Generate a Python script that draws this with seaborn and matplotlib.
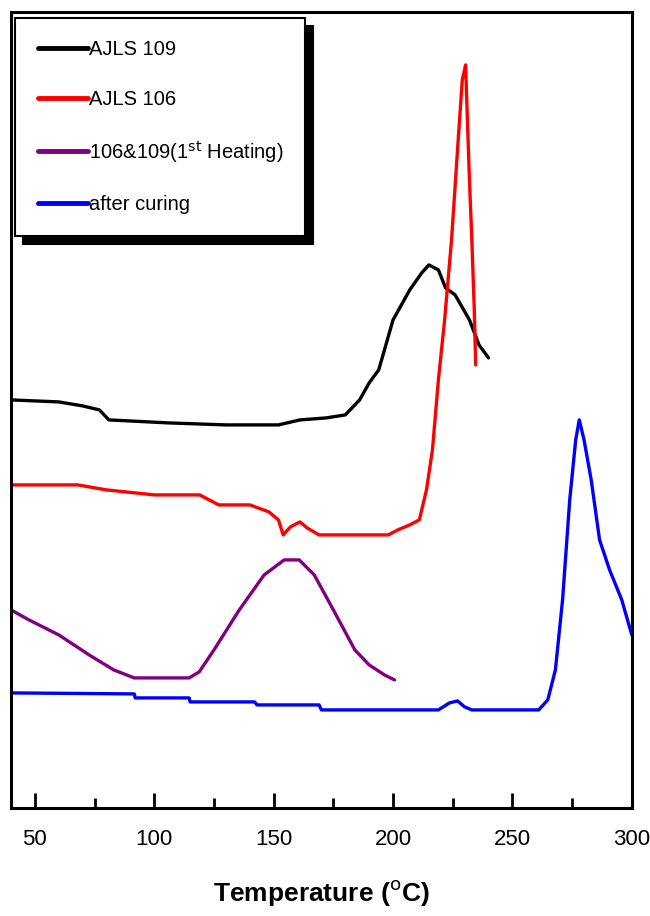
import numpy as np
import pandas as pd
import matplotlib
matplotlib.use("Agg")
import matplotlib.pyplot as plt
import seaborn as sns
from matplotlib.ticker import MultipleLocator

# DSC traces, heat flow in arbitrary units
t_109 = [40, 60, 70, 77, 81, 106, 130, 152, 161, 172, 180, 186, 190, 194, 200, 207, 212, 215, 219, 222, 226, 232, 236, 240]
h_109 = [4.08, 4.06, 4.02, 3.98, 3.88, 3.85, 3.83, 3.83, 3.88, 3.90, 3.93, 4.08, 4.25, 4.38, 4.88, 5.18, 5.35, 5.43, 5.38, 5.2, 5.13, 4.88, 4.63, 4.50]

t_106 = [40, 68, 80, 100, 119, 127, 140, 148, 152, 154, 157, 161, 164, 169, 185, 198, 202, 207, 211, 214, 216.5, 219, 221.6, 224.5, 227, 229, 230.4, 231, 232, 233, 234, 234.6]
h_106 = [3.23, 3.23, 3.18, 3.13, 3.13, 3.03, 3.03, 2.96, 2.88, 2.73, 2.81, 2.86, 2.80, 2.73, 2.73, 2.73, 2.78, 2.83, 2.88, 3.18, 3.58, 4.28, 4.88, 5.68, 6.58, 7.28, 7.43, 6.98, 6.28, 5.68, 5.00, 4.43]

t_mix = [40, 47.5, 60, 72.7, 83, 91.6, 114.6, 118.8, 125, 135.6, 146, 154.4, 160.7, 167, 175, 184, 190, 196.4, 200.6]
h_mix = [1.98, 1.88, 1.73, 1.53, 1.38, 1.30, 1.30, 1.36, 1.58, 1.98, 2.33, 2.48, 2.48, 2.33, 1.98, 1.58, 1.43, 1.33, 1.28]

t_cur = [40, 91.6, 92, 114.6, 115, 142, 143, 169, 170, 219, 223.6, 227, 230, 233, 261, 264.8, 268, 271, 274, 276.5, 278, 280, 283, 286.5, 290.7, 295.8, 300]
h_cur = [1.15, 1.14, 1.10, 1.10, 1.06, 1.06, 1.03, 1.03, 0.98, 0.98, 1.05, 1.07, 1.01, 0.98, 0.98, 1.08, 1.38, 2.08, 3.08, 3.68, 3.88, 3.68, 3.28, 2.68, 2.38, 2.08, 1.73]

labels = ["AJLS 109", "AJLS 106", r"106&109(1$^{\rm st}$ Heating)", "after curing"]
colors = ["black", "red", "purple", "blue"]

frames = []
for lab, t, h in zip(labels, [t_109, t_106, t_mix, t_cur], [h_109, h_106, h_mix, h_cur]):
    frames.append(pd.DataFrame({"T": t, "H": h, "sample": lab}))
df = pd.concat(frames, ignore_index=True)

sns.set_style("white")
plt.rcParams['font.family'] = ['Liberation Sans', 'DejaVu Sans']
plt.rcParams['text.color'] = 'black'
plt.rcParams['xtick.color'] = 'black'
plt.rcParams['axes.labelcolor'] = 'black'

fig = plt.figure(figsize=(6.5, 9.16), dpi=100)
ax = fig.add_axes([0.017, 0.118, 0.955, 0.869])

for lab, col in zip(labels, colors):
    sub = df[df["sample"] == lab]
    sns.lineplot(data=sub, x="T", y="H", color=col, lw=2.4, label=lab,
                 estimator=None, sort=False, ax=ax)

ax.set_xlim(40, 300)
ax.set_ylim(0, 7.96)
ax.set_yticks([])
ax.xaxis.set_major_locator(MultipleLocator(50))
ax.xaxis.set_minor_locator(MultipleLocator(25))
ax.tick_params(axis="x", which="major", direction="in", length=11, width=2,
               bottom=True, top=False, labelsize=16, pad=15)
ax.tick_params(axis="x", which="minor", direction="in", length=7, width=2,
               bottom=True, top=False)
for s in ax.spines.values():
    s.set_linewidth(2.2)
    s.set_color("black")

ax.set_xlabel(r"Temperature ($^{\rm o}$C)", fontsize=19, fontweight="bold", labelpad=20)
ax.set_ylabel("")

leg = ax.legend(loc="upper left", bbox_to_anchor=(0.007, 0.992), borderaxespad=0,
                fontsize=14.5, frameon=True, fancybox=False, edgecolor="black",
                shadow={"color": "black", "alpha": 1, "ox": 5.5, "oy": -5.5},
                handlelength=2.5, handletextpad=0.05, labelspacing=1.5,
                borderpad=1.1)
leg.get_frame().set_linewidth(1.5)
for line in leg.get_lines():
    line.set_linewidth(3.5)

fig.savefig("out.png", dpi=100)
